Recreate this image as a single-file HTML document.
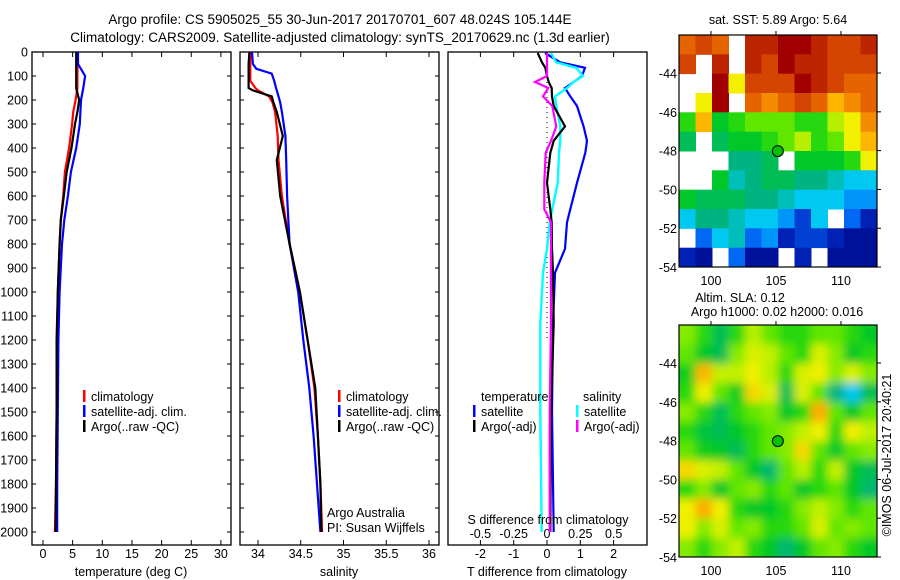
<!DOCTYPE html>
<html><head><meta charset="utf-8"><style>
html,body{margin:0;padding:0;background:#fff}
svg{display:block;font-family:"Liberation Sans",sans-serif}
text{font-size:12.5px;fill:#000}
</style></head><body>
<svg id="c" width="900" height="580" viewBox="0 0 900 580" xmlns="http://www.w3.org/2000/svg">
<defs>
<filter id="blur" x="-10%" y="-10%" width="120%" height="120%"><feGaussianBlur stdDeviation="4.5"/></filter>
<clipPath id="clipA"><rect x="679" y="35" width="198" height="232"/></clipPath>
<clipPath id="clipB"><rect x="679" y="325" width="198" height="232"/></clipPath>
<clipPath id="clipP1"><rect x="32" y="52" width="199" height="493"/></clipPath>
<clipPath id="clipP2"><rect x="240" y="52" width="199" height="493"/></clipPath>
<clipPath id="clipP3"><rect x="448" y="52" width="199" height="493"/></clipPath>
</defs>
<text x="340" y="24" text-anchor="middle" style="font-size:13.5px">Argo profile: CS 5905025_55 30-Jun-2017 20170701_607 48.024S 105.144E</text>
<text x="340" y="42" text-anchor="middle" style="font-size:13.5px">Climatology: CARS2009. Satellite-adjusted climatology: synTS_20170629.nc (1.3d earlier)</text>
<g id="g"></g>
</svg>
<script>
// ---------- data ----------
const tDepth = [0,50,100,150,200,250,300,400,500,600,700,800,1000,1200,1500,1800,2000];
const tClim  = [5.8,5.8,5.8,5.8,5.5,5.1,4.9,4.4,3.7,3.4,3.0,2.8,2.5,2.4,2.3,2.2,2.0];
const tSat   = [5.9,5.9,7.1,6.8,6.4,6.3,6.2,5.6,4.7,4.2,3.6,3.2,2.8,2.6,2.5,2.4,2.4];
const tArgo  = [5.6,5.6,5.6,5.6,6.1,5.8,5.4,4.8,4.0,3.5,3.0,2.8,2.5,2.3,2.3,2.2,2.1];
const sDepth = [0,50,70,90,120,150,160,185,210,250,350,450,600,800,1000,1200,1400,1600,1800,2000];
const sClim  = [33.91,33.91,33.91,33.91,33.91,33.97,34.0,34.13,34.17,34.2,34.23,34.24,34.28,34.37,34.49,34.58,34.66,34.70,34.73,34.75];
const sSat   = [33.93,33.94,33.98,34.16,34.19,34.21,34.22,34.24,34.26,34.28,34.32,34.33,34.34,34.37,34.47,34.53,34.60,34.65,34.69,34.73];
const sArgo  = [33.90,33.89,33.89,33.89,33.89,33.89,33.94,34.16,34.18,34.22,34.29,34.22,34.26,34.37,34.49,34.58,34.67,34.70,34.73,34.74];
const dDepth = [4,43,66,100,125,150,185,225,310,370,420,545,655,710,820,920,1130,1500,2000];
const dTSat  = [-0.06,0.4,1.14,1.05,0.8,0.54,0.7,0.9,1.1,1.2,1.15,0.9,0.7,0.6,0.54,0.24,0.18,0.15,0.2];
const dTArgo = [-0.28,-0.15,-0.05,0.0,0.05,0.14,0.15,0.2,0.54,0.2,0.1,0.0,0.1,0.14,0.15,0.18,0.2,0.12,0.1];
const dSSat  = [0.03,0.07,0.22,0.27,0.2,0.15,0.06,0.07,0.1,0.1,0.09,0.08,0.04,0.02,0.0,-0.03,-0.05,-0.05,-0.04];
const dSArgo = [0.0,0.0,0.0,0.0,-0.09,0.01,-0.03,0.04,0.07,0.03,-0.01,-0.02,-0.02,0.03,0.03,0.03,0.03,0.02,0.02];
const tTicks = [0,5,10,15,20,25,30];
const sTicks = [34,34.5,35,35.5,36];
const dTicks = [-2,-1,0,1,2];
const dSTicks = [-0.5,-0.25,0,0.25,0.5];
const depthTicks = [0,100,200,300,400,500,600,700,800,900,1000,1100,1200,1300,1400,1500,1600,1700,1800,1900,2000];
const lonTicks = [100,105,110];
const latTicks = [-44,-46,-48,-50,-52,-54];
const sstGrid = [
[0.85,0.9,0.85,null,0.95,0.95,1,1,0.95,0.9,0.9,0.95],
[0.9,null,0.95,null,0.95,0.9,1,0.95,0.95,0.9,0.9,0.9],
[null,null,1,0.7,0.9,0.9,0.9,1,0.95,0.9,0.85,0.85],
[null,0.7,1,null,0.85,0.8,0.85,0.9,0.85,0.75,0.8,0.85],
[0.55,0.75,0.5,0.55,0.6,0.6,0.6,0.55,0.55,0.65,0.7,0.8],
[0.45,null,0.45,0.5,0.5,0.55,0.6,0.65,0.55,0.6,0.7,0.75],
[null,null,null,0.4,0.4,0.45,null,0.5,0.5,0.5,0.55,0.7],
[null,null,0.5,0.35,0.4,0.45,0.45,0.4,0.4,0.35,0.3,0.3],
[0.5,0.45,0.45,0.45,0.4,0.4,0.35,0.3,0.3,0.3,0.25,0.25],
[0.3,0.4,0.4,0.35,0.3,0.3,0.25,0.15,0.3,null,0.2,0.1],
[null,0.2,0.3,0.35,0.2,0.25,0.1,0.15,0.15,0.1,0.05,0.05],
[0.1,0.05,null,0.2,0.05,0.05,null,0.1,null,0.05,0.05,0.05]];
const slaGrid = [
[0.62,0.55,0.45,0.55,0.65,0.6,0.55,0.55,0.6,0.6,0.55,0.5],
[0.6,0.5,0.45,0.62,0.68,0.66,0.6,0.55,0.68,0.62,0.5,0.55],
[0.52,0.75,0.66,0.66,0.7,0.65,0.55,0.68,0.7,0.62,0.68,0.62],
[0.55,0.7,0.6,0.52,0.72,0.68,0.45,0.68,0.6,0.4,0.3,0.45],
[0.62,0.55,0.45,0.55,0.6,0.62,0.5,0.55,0.76,0.6,0.5,0.6],
[0.55,0.48,0.45,0.5,0.55,0.6,0.62,0.66,0.7,0.55,0.7,0.66],
[0.6,0.52,0.5,0.45,0.55,0.6,0.62,0.72,0.6,0.5,0.6,0.62],
[0.72,0.68,0.66,0.6,0.5,0.42,0.6,0.65,0.55,0.66,0.5,0.45],
[0.55,0.62,0.5,0.6,0.62,0.55,0.6,0.5,0.55,0.6,0.5,0.42],
[0.7,0.76,0.7,0.55,0.5,0.5,0.55,0.62,0.66,0.62,0.55,0.6],
[0.7,0.62,0.68,0.6,0.62,0.55,0.55,0.6,0.68,0.6,0.62,0.6],
[0.62,0.55,0.62,0.66,0.55,0.5,0.42,0.5,0.6,0.62,0.55,0.5]];
const argoLon = 105.144, argoLat = -48.024;

// ---------- helpers ----------
const NS='http://www.w3.org/2000/svg';
const G=document.getElementById('g');
function mk(tag,attrs,parent){const e=document.createElementNS(NS,tag);for(const k in attrs)e.setAttribute(k,attrs[k]);(parent||G).appendChild(e);return e;}
function txt(x,y,s,anchor,parent){const t=mk('text',{x:x,y:y,'text-anchor':anchor||'start'},parent);t.textContent=s;return t;}
const yD = d => 52 + d*0.24;
const xT = v => 43 + v*5.93;
const xS = v => 258 + (v-34)*85.5;
const xDT = v => 547 + v*33.3;
const xDS = v => 547 + v*133.3;
const lonX = lon => 679 + (lon-97.54)*13;
const latY = lat => 35 + (-42.04-lat)*19.4;

function line(xs,ds,xf,color,w,clip,name){
  const p=mk('polyline',{points:xs.map((v,i)=>xf(v).toFixed(1)+','+yD(ds[i]).toFixed(1)).join(' '),fill:'none',stroke:color,'stroke-width':w,'clip-path':'url(#'+clip+')'});
  
  
}
function box(x,name){
  const r=mk('rect',{x:x,y:52,width:199,height:493,fill:'none',stroke:'#000','stroke-width':1.3});
  
  
}
function legEntry(x,y,color,label){
  const b=mk('rect',{x:x,y:y-11,width:2.5,height:12,fill:color});
  
  
  const t=txt(x+8,y,label);
  
  
}

// ---------- panel 1 ----------
box(32,'temperature-panel');
depthTicks.forEach(d=>{
  mk('line',{x1:32,x2:36,y1:yD(d),y2:yD(d),stroke:'#000'});
  mk('line',{x1:227,x2:231,y1:yD(d),y2:yD(d),stroke:'#000'});
  const t=txt(28,yD(d)+4.5,String(d),'end');
  
  
});
tTicks.forEach(v=>{
  mk('line',{x1:xT(v),x2:xT(v),y1:52,y2:57,stroke:'#000'});
  mk('line',{x1:xT(v),x2:xT(v),y1:540,y2:545,stroke:'#000'});
  const t=txt(xT(v),558,String(v),'middle');
  
  
});
line(tClim,tDepth,xT,'#f00',2.2,'clipP1','temperature-climatology-line');
line(tSat,tDepth,xT,'#00f',2.2,'clipP1','temperature-satellite-line');
line(tArgo,tDepth,xT,'#000',2.2,'clipP1','temperature-argo-line');
(()=>{const t=txt(131,576,'temperature (deg C)','middle');})();
legEntry(83,401,'#f00','climatology');
legEntry(83,416,'#00f','satellite-adj. clim.');
legEntry(83,431,'#000','Argo(..raw -QC)');

// ---------- panel 2 ----------
box(240,'salinity-panel');
depthTicks.forEach(d=>{
  mk('line',{x1:240,x2:244,y1:yD(d),y2:yD(d),stroke:'#000'});
  mk('line',{x1:435,x2:439,y1:yD(d),y2:yD(d),stroke:'#000'});
});
sTicks.forEach(v=>{
  mk('line',{x1:xS(v),x2:xS(v),y1:52,y2:57,stroke:'#000'});
  mk('line',{x1:xS(v),x2:xS(v),y1:540,y2:545,stroke:'#000'});
  const t=txt(xS(v),558,String(v),'middle');
  
  
});
line(sClim,sDepth,xS,'#f00',2.2,'clipP2','salinity-climatology-line');
line(sSat,sDepth,xS,'#00f',2.2,'clipP2','salinity-satellite-line');
line(sArgo,sDepth,xS,'#000',2.2,'clipP2','salinity-argo-line');
(()=>{const t=txt(339,576,'salinity','middle');})();
legEntry(338,401,'#f00','climatology');
legEntry(338,416,'#00f','satellite-adj. clim.');
legEntry(338,431,'#000','Argo(..raw -QC)');
(()=>{let t=txt(327,517,'Argo Australia');
t=txt(327,532,'PI: Susan Wijffels');})();

// ---------- panel 3 ----------
box(448,'difference-panel');
dTicks.forEach(v=>{
  mk('line',{x1:xDT(v),x2:xDT(v),y1:52,y2:57,stroke:'#000'});
  mk('line',{x1:xDT(v),x2:xDT(v),y1:540,y2:545,stroke:'#000'});
  const t=txt(xDT(v),558,String(v),'middle');
  
  
});
dSTicks.forEach(v=>{
  const t=txt(xDS(v),538,String(v),'middle');
  
  
});
mk('line',{x1:547,x2:547,y1:52,y2:340,stroke:'#000','stroke-dasharray':'1,4'});
line(dTSat,dDepth,xDT,'#00f',2.2,'clipP3','t-diff-satellite-line');
line(dSSat,dDepth,xDS,'#0ff',2.4,'clipP3','s-diff-satellite-line');
line(dTArgo,dDepth,xDT,'#000',2.2,'clipP3','t-diff-argo-line');
line(dSArgo,dDepth,xDS,'#f0f',2.2,'clipP3','s-diff-argo-line');
(()=>{let t=txt(547,576,'T difference from climatology','middle');
t=txt(548,524,'S difference from climatology','middle');
t=txt(481,401,'temperature');
t=txt(583,401,'salinity');})();
legEntry(473,416,'#00f','satellite');
legEntry(473,431,'#000','Argo(-adj)');
legEntry(576,416,'#0ff','satellite');
legEntry(576,431,'#f0f','Argo(-adj)');

// ---------- colormap ----------
const stops=[[0,[0,0,127]],[0.12,[0,40,190]],[0.22,[0,120,255]],[0.3,[0,200,240]],[0.4,[0,180,130]],[0.5,[0,200,40]],[0.58,[60,225,0]],[0.64,[170,240,0]],[0.7,[240,240,0]],[0.76,[255,170,0]],[0.85,[230,100,0]],[0.93,[200,50,0]],[1,[160,0,0]]];
function cmap(v){for(let i=1;i<stops.length;i++){if(v<=stops[i][0]){const a=stops[i-1],b=stops[i],f=(v-a[0])/(b[0]-a[0]);return 'rgb('+a[1].map((c,k)=>Math.round(c+(b[1][k]-c)*f)).join(',')+')';}}return 'rgb(160,0,0)';}

function mapPanel(grid,top,clip,blur,name){
  const g=mk('g',{'clip-path':'url(#'+clip+')'});
  
  
  const inner=mk('g',blur?{filter:'url(#blur)'}:{},g);
  const nr=grid.length,nc=grid[0].length,cw=198/nc,ch=232/nr;
  grid.forEach((row,r)=>row.forEach((v,c)=>{
    if(v===null)return;
    let x=679+c*cw,y=top+r*ch,w=cw+0.5,h=ch+0.5;
    if(blur){if(c===0){x-=20;w+=20;}if(c===nc-1)w+=20;if(r===0){y-=20;h+=20;}if(r===nr-1)h+=20;}
    const cell=mk('rect',{x:x.toFixed(1),y:y.toFixed(1),width:w.toFixed(1),height:h.toFixed(1),fill:cmap(v)},inner);
    
    
  }));
  const b=mk('rect',{x:679,y:top,width:198,height:232,fill:'none',stroke:'#000','stroke-width':1.2});
  
  
  lonTicks.forEach(l=>{
    mk('line',{x1:lonX(l),x2:lonX(l),y1:top-4,y2:top,stroke:'#000'});
    const t=txt(lonX(l),top+232+18,String(l),'middle');
    
    
  });
  latTicks.forEach(l=>{
    const y=top+(latY(l)-35);
    mk('line',{x1:877,x2:881,y1:y,y2:y,stroke:'#000'});
    const t=txt(677,y+5,String(l),'end');
    
    
  });
  const m=mk('circle',{cx:lonX(argoLon),cy:top+(latY(argoLat)-35),r:5.5,fill:'#00c000',stroke:'#000','stroke-width':1});
  
  
}
mapPanel(sstGrid,35,'clipA',false,'sst-map');
mapPanel(slaGrid,325,'clipB',true,'sla-map');
(()=>{let t=txt(778,24,'sat. SST: 5.89 Argo: 5.64','middle');
t=txt(740,302,'Altim. SLA: 0.12','middle');
t=txt(777,316,'Argo h1000: 0.02 h2000: 0.016','middle');
t=mk('text',{x:0,y:0,'text-anchor':'middle',transform:'translate(891,455) rotate(-90)'});t.textContent='©IMOS 06-Jul-2017 20:40:21';})();
</script>
</body></html>
